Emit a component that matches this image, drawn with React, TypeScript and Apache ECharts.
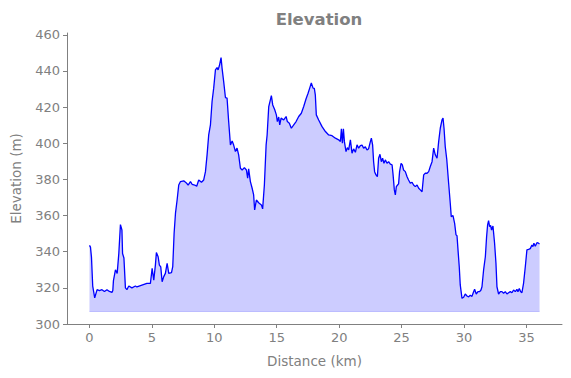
import React, { useEffect, useRef } from "react";
import * as echarts from "echarts";

const distanceKm = [
  0, 0.08, 0.16, 0.26, 0.42, 0.61, 0.8, 1.0, 1.2, 1.4, 1.6, 1.8, 1.87,
  1.92, 2.08, 2.22, 2.35, 2.48, 2.6, 2.65, 2.76, 2.88, 3.0, 3.15, 3.4, 3.68, 3.8, 4.2, 4.6, 4.88,
  5.02, 5.15, 5.28, 5.36, 5.5, 5.6, 5.71, 5.82, 5.95, 6.08, 6.22, 6.35, 6.57, 6.67, 6.78, 6.89,
  7.02, 7.15, 7.29, 7.55, 7.74, 7.9, 8.09, 8.22, 8.43, 8.59, 8.75, 8.97, 9.15, 9.29, 9.42,
  9.55, 9.69, 9.82, 9.95, 10.09, 10.22, 10.3, 10.41, 10.54, 10.62, 10.75, 10.89, 11.02, 11.15,
  11.29, 11.43, 11.55, 11.69, 11.82, 11.95, 12.09, 12.23, 12.41, 12.57, 12.67, 12.75, 12.89,
  13.03, 13.15, 13.23, 13.37, 13.55, 13.77, 13.87, 14.01, 14.15, 14.23, 14.36, 14.49, 14.57,
  14.68, 14.84, 14.97, 15.05, 15.16, 15.24, 15.35, 15.56, 15.75, 15.85, 16.01, 16.17, 16.36,
  16.55, 16.76, 16.97, 17.16, 17.35, 17.51, 17.64, 17.77, 17.91, 18.01, 18.09, 18.17, 18.36,
  18.63, 18.9, 19.16, 19.43, 19.7, 19.96, 20.1, 20.18, 20.26, 20.34, 20.42, 20.55, 20.66,
  20.76, 20.9, 21.03, 21.16, 21.3, 21.43, 21.56, 21.7, 21.83, 21.96, 22.1, 22.23, 22.36, 22.5,
  22.58, 22.68, 22.76, 22.84, 22.95, 23.06, 23.16, 23.27, 23.38, 23.48, 23.59, 23.7, 23.83,
  23.96, 24.1, 24.24, 24.32, 24.42, 24.5, 24.58, 24.68, 24.76, 24.84, 24.96, 25.06, 25.16,
  25.3, 25.44, 25.56, 25.7, 25.84, 25.96, 26.1, 26.24, 26.37, 26.5, 26.64, 26.77, 26.9, 27.04,
  27.17, 27.3, 27.44, 27.57, 27.7, 27.84, 27.97, 28.1, 28.24, 28.32, 28.4, 28.5, 28.62, 28.77,
  28.9, 28.98, 29.12, 29.25, 29.36, 29.44, 29.52, 29.62, 29.7, 29.84, 29.97, 30.1, 30.24,
  30.37, 30.5, 30.64, 30.74, 30.85, 30.98, 31.12, 31.25, 31.36, 31.44, 31.57, 31.71, 31.81,
  31.89, 31.97, 32.05, 32.13, 32.21, 32.32, 32.45, 32.56, 32.64, 32.77, 32.91, 33.04, 33.17,
  33.31, 33.44, 33.57, 33.71, 33.84, 33.97, 34.11, 34.24, 34.32, 34.43, 34.53, 34.64, 34.77,
  34.91, 35.04, 35.17, 35.31, 35.44, 35.52, 35.6, 35.71, 35.84, 35.97, 36.05,
];

const elevationM = [
  343.5, 342.5, 337, 321, 314.5, 319, 318.5, 319, 318, 319, 318, 317.5, 318.5,
  324, 330, 328, 339, 355, 352, 339, 336.5, 320, 319, 321, 320, 321, 320.5, 321.5, 322.5, 322.5,
  330.8, 324.3, 332.6, 339.5, 337.2, 332.6, 331.6, 323.4, 326.2, 328, 333.6, 328, 328.4, 331.7, 350.2, 361.3,
  368.6, 376.9, 378.8, 379.2, 378.2, 376.9, 378.8, 377.3, 376.9, 376.2, 379.7, 378.4, 379.7, 384.3, 393.6,
  404.6, 410.2, 423.1, 430.5, 440.6, 441.9, 440.6, 443, 447.4, 441.6, 434.1, 425.3, 425, 412,
  399.1, 401.3, 399, 395.4, 397.3, 393.6, 386.2, 385.2, 386.5, 385.2, 380.7, 385.8, 378.8,
  375.1, 371.4, 363.1, 368.6, 367.1, 365.9, 363.7, 376.9, 399.1, 404.6, 420.3, 424, 426.4,
  421.2, 418.5, 415.7, 412, 414.5, 410.2, 413.9, 412.9, 414.8, 412, 411.1, 408.3, 410.2,
  412, 414.8, 416.6, 420.3, 424.6, 427.7, 430.5, 433.3, 430.5, 430.4, 426.8, 415.7, 412.9,
  409.2, 406.5, 404.6, 404.2, 402.8, 401.9, 401, 408, 400, 408, 400.9, 395.4, 397.6,
  396.3, 401.9, 394.5, 396.9, 395, 399.1, 397.3, 398.7, 399, 397.3, 398, 396.3, 397, 400.9,
  402.8, 399.1, 389.8, 384.3, 382.5, 381.5, 391.7, 393.9, 389.8, 391.7, 388.9, 390.8, 388.9,
  389.8, 388.4, 388, 382.5, 374.2, 371.4, 376, 376.9, 377.5, 384.3, 388.9, 388,
  385.2, 384.3, 381.5, 379.7, 377.9, 378.4, 376.9, 376, 376.9, 375.1, 374.2, 373.2, 382.5, 383.4,
  383.4, 384.3, 387.1, 389.8, 397.3, 393.6, 391.7, 400.9, 408.3, 412.9, 413.9, 408.3, 398, 391, 377.9,
  366.8, 359.4, 360, 355.7, 349.3, 348.8, 341, 331.7, 321.6, 314.2, 314.8, 316.6, 315.5,
  315, 315.9, 315.3, 317.3, 319.2, 316.6, 317.9, 317.9, 318.8, 320.6, 329.9, 337.2, 348.3,
  354.8, 357.2, 353.9, 354.5, 352, 354.2, 344.7, 333.6, 320.6, 316.6, 317.9, 317.9, 317,
  317.9, 316.6, 317.3, 317.9, 317.3, 318.8, 317.9, 319.2, 317.9, 319.7, 318, 317.3, 322.5, 331.7,
  341, 341.3, 341.7, 343.7, 342.8, 344.7, 343, 345, 344.7, 344.3, 346.1,
];

const fillBase = 307;
const xTicks = [0, 5, 10, 15, 20, 25, 30, 35];
const yTicks = [300, 320, 340, 360, 380, 400, 420, 440, 460];

const GRAY = "#808080";
const FONT = "DejaVu Sans";

export default function App() {
  const ref = useRef<HTMLDivElement>(null);
  useEffect(() => {
    if (!ref.current) return;
    const chart = echarts.init(ref.current, null, { renderer: "svg" });
    const data = distanceKm.map((d, i) => [d, elevationM[i]]);
    chart.setOption({
      animation: false,
      title: {
        text: "Elevation",
        left: 314,
        textAlign: "center",
        top: 6,
        textStyle: { color: GRAY, fontFamily: FONT, fontSize: 16.5, fontWeight: "bold" },
      },
      grid: { left: 67, right: 9, top: 33, bottom: 54 },
      xAxis: {
        type: "value",
        min: -1.8,
        max: 37.85,
        name: "Distance (km)",
        nameLocation: "middle",
        nameGap: 30,
        nameTextStyle: { color: GRAY, fontFamily: FONT, fontSize: 13.5 },
        axisLine: { show: true, onZero: false, lineStyle: { color: GRAY, width: 1 } },
        axisTick: { show: true, length: 4, customValues: xTicks, lineStyle: { color: GRAY } },
        axisLabel: { customValues: xTicks, color: GRAY, fontFamily: FONT, fontSize: 13, margin: 7 },
        splitLine: { show: false },
      },
      yAxis: {
        type: "value",
        min: 300,
        max: 461,
        name: "Elevation (m)",
        nameLocation: "middle",
        nameGap: 44,
        nameRotate: 90,
        nameTextStyle: { color: GRAY, fontFamily: FONT, fontSize: 13.5 },
        axisLine: { show: true, onZero: false, lineStyle: { color: GRAY, width: 1 } },
        axisTick: { show: true, length: 4, customValues: yTicks, lineStyle: { color: GRAY } },
        axisLabel: { customValues: yTicks, color: GRAY, fontFamily: FONT, fontSize: 13, margin: 7 },
        splitLine: { show: false },
      },
      series: [
        {
          type: "line",
          data,
          showSymbol: false,
          symbol: "none",
          lineStyle: { color: "#0000ff", width: 1.3 },
          areaStyle: { color: "#ccccff", opacity: 1, origin: fillBase },
          z: 3,
        },
        {
          type: "line",
          data: [[distanceKm[0], fillBase], [distanceKm[distanceKm.length - 1], fillBase]],
          showSymbol: false,
          symbol: "none",
          lineStyle: { color: "#aaaaff", width: 1 },
          z: 2,
        },
      ],
    });
    return () => chart.dispose();
  }, []);
  return (
    <div
      ref={ref}
      style={{ position: "absolute", left: 0, top: 0, width: 571, height: 378 }}
    />
  );
}
